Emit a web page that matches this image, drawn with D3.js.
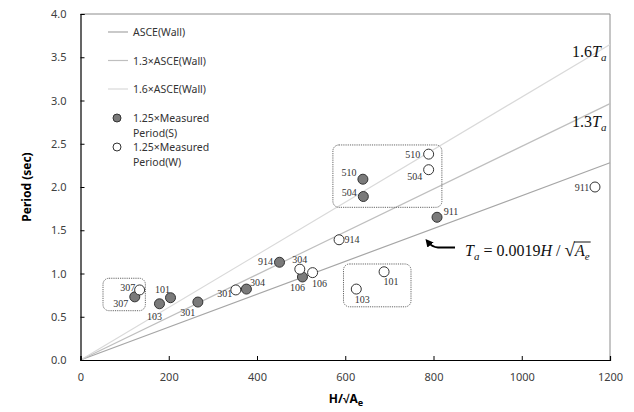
<!DOCTYPE html>
<html lang="en">
<head>
    <meta charset="UTF-8">
    <title>period vs H/sqrt(Ae)</title>
    <script src="https://d3js.org/d3.v7.min.js"></script>
    <style>
        body {
            margin: 0;
            background: white;
        }
        .tick-label {
            font-family: "Noto Sans", sans-serif;
            font-size: 11px;
            fill: #404040;
        }
        .axis-title {
            font-family: "Noto Sans", sans-serif;
            font-size: 12px;
            font-weight: bold;
        }
        .legend text {
            font-family: "Noto Sans", sans-serif;
            font-size: 10.5px;
            fill: #333;
        }
        .pt-label {
            font-family: "Liberation Serif", serif;
            font-size: 10px;
            fill: #333;
        }
        .math {
            font-family: "Liberation Serif", serif;
            font-size: 16px;
            fill: #111;
        }
    </style>
</head>
<body>
    <div id="chart"></div>
    <script>
        const WIDTH = 634
        const HEIGHT = 412

        // data
        const xTicks = [0, 200, 400, 600, 800, 1000, 1200]
        const yTicks = [0, 0.5, 1, 1.5, 2, 2.5, 3, 3.5, 4]

        const codeCoef = 0.0019
        const lineFactors = [1, 1.3, 1.6]
        const lineNames = ['ASCE(Wall)', '1.3\u00d7ASCE(Wall)', '1.6\u00d7ASCE(Wall)']

        const sIds = ['307', '103', '101', '301', '304', '914', '106', '510', '504', '911']
        const sX = [123, 179, 204, 266, 376, 451, 503, 640, 641, 808]
        const sY = [0.73, 0.65, 0.72, 0.67, 0.82, 1.13, 0.96, 2.09, 1.89, 1.65]

        const wIds = ['307', '301', '304', '106', '914', '103', '101', '504', '510', '911']
        const wX = [134, 352, 497, 526, 586, 625, 688, 789, 789, 1166]
        const wY = [0.81, 0.81, 1.05, 1.01, 1.39, 0.82, 1.02, 2.20, 2.38, 2.00]

        // dotted groupings, in data units [x0, x1, y0, y1]
        const boxes = [
            [51, 147, 0.57, 0.945],
            [596, 749, 0.615, 1.11],
            [572, 819, 1.765, 2.486]
        ]

        // layout stuff
        const lineColors = ['#a6a6a6', '#bfbfbf', '#d9d9d9']
        const sOffsets = {
            '307': [-14, 7], '103': [-5, 13], '101': [-8, -8], '301': [-10, 10], '304': [11, -7],
            '914': [-14, -1], '106': [-5, 11], '510': [-14, -7], '504': [-14, -4], '911': [14, -6]
        }
        const wOffsets = {
            '307': [-12, -2], '301': [-11, 4], '304': [0, -10], '106': [7, 11], '914': [13, 0],
            '103': [6, 10], '101': [7, 10], '504': [-14, 7], '510': [-16, 0], '911': [-13, 0]
        }

        const x = d3.scaleLinear().domain([0, 1200]).range([80.5, 610])
        const y = d3.scaleLinear().domain([0, 4]).range([360, 14])

        const svg = d3.select('#chart')
            .append('svg')
            .attr('width', WIDTH)
            .attr('height', HEIGHT)
            .attr('viewBox', [0, 0, WIDTH, HEIGHT])

        // frame
        svg.append('path')
            .attr('d', `M${x(0)},${y(4)}H${x(1200)}V${y(0)}`)
            .attr('fill', 'none')
            .attr('stroke', '#8c8c8c')

        // code lines
        svg.append('g').selectAll('line')
            .data(lineFactors).enter()
            .append('line')
            .attr('x1', x(0)).attr('y1', y(0))
            .attr('x2', x(1200)).attr('y2', f => y(f * codeCoef * 1200))
            .attr('stroke', (f, i) => lineColors[i])
            .attr('stroke-width', 1.2)

        // axes
        const xAxis = svg.append('g')
            .attr('transform', `translate(0,${y(0)})`)
            .call(d3.axisBottom(x).tickValues(xTicks).tickSize(-4).tickPadding(13).tickFormat(d3.format('d')))
        const yAxis = svg.append('g')
            .attr('transform', `translate(${x(0)},0)`)
            .call(d3.axisLeft(y).tickValues(yTicks).tickSize(-4).tickPadding(14).tickFormat(d3.format('.1f')))
        ;[xAxis, yAxis].forEach(g => {
            g.select('.domain').attr('stroke', '#000').attr('stroke-width', 1.2)
            g.selectAll('.tick line').attr('stroke', '#000')
            g.selectAll('.tick text').attr('class', 'tick-label').attr('font-size', null).attr('font-family', null)
        })
        xAxis.attr('font-size', null).attr('font-family', null)
        yAxis.attr('font-size', null).attr('font-family', null)

        // axis titles
        const xt = svg.append('text')
            .attr('class', 'axis-title')
            .attr('x', 346).attr('y', 403)
            .attr('text-anchor', 'middle')
        xt.append('tspan').text('H/\u221aA')
        xt.append('tspan').text('e').attr('font-size', 9).attr('dy', 3)

        svg.append('text')
            .attr('class', 'axis-title')
            .attr('transform', `translate(31,${(y(0) + y(4)) / 2}) rotate(-90)`)
            .attr('text-anchor', 'middle')
            .text('Period (sec)')

        // boxes
        svg.append('g').selectAll('rect')
            .data(boxes).enter()
            .append('rect')
            .attr('x', b => x(b[0]))
            .attr('y', b => y(b[3]))
            .attr('width', b => x(b[1]) - x(b[0]))
            .attr('height', b => y(b[2]) - y(b[3]))
            .attr('rx', 6)
            .attr('fill', 'none')
            .attr('stroke', '#666')
            .attr('stroke-width', 1)
            .attr('stroke-dasharray', '1.2,1')

        // points
        const sData = sIds.map((id, i) => ({ id, x: sX[i], y: sY[i], off: sOffsets[id] }))
        const wData = wIds.map((id, i) => ({ id, x: wX[i], y: wY[i], off: wOffsets[id] }))

        const drawPoints = (data, fill) => {
            const g = svg.append('g')
            g.selectAll('circle')
                .data(data).enter()
                .append('circle')
                .attr('cx', d => x(d.x))
                .attr('cy', d => y(d.y))
                .attr('r', 5)
                .attr('fill', fill)
                .attr('stroke', '#333')
                .attr('stroke-width', 1)
            g.selectAll('text')
                .data(data).enter()
                .append('text')
                .attr('class', 'pt-label')
                .attr('x', d => x(d.x) + d.off[0])
                .attr('y', d => y(d.y) + d.off[1])
                .attr('text-anchor', 'middle')
                .attr('dominant-baseline', 'central')
                .text(d => d.id)
        }
        drawPoints(sData, '#7a7a7a')
        drawPoints(wData, '#fff')

        // legend
        const legend = svg.append('g').attr('class', 'legend')
        lineNames.forEach((name, i) => {
            const ly = 32 + i * 28.5
            legend.append('line')
                .attr('x1', 108).attr('x2', 128)
                .attr('y1', ly).attr('y2', ly)
                .attr('stroke', lineColors[i]).attr('stroke-width', 1.2)
            legend.append('text')
                .attr('x', 133).attr('y', ly)
                .attr('dominant-baseline', 'central')
                .text(name)
        })
        ;[['#7a7a7a', 'S', 118], ['#fff', 'W', 147]].forEach(([fill, k, ly]) => {
            legend.append('circle')
                .attr('cx', 117).attr('cy', ly).attr('r', 4)
                .attr('fill', fill).attr('stroke', '#333')
            legend.append('text')
                .attr('x', 133).attr('y', ly)
                .attr('dominant-baseline', 'central')
                .text('1.25\u00d7Measured')
            legend.append('text')
                .attr('x', 133).attr('y', ly + 15)
                .attr('dominant-baseline', 'central')
                .text(`Period(${k})`)
        })

        // line annotations
        const taLabel = (tx, ty, factor) => {
            const t = svg.append('text').attr('class', 'math').attr('x', tx).attr('y', ty)
            t.append('tspan').text(factor)
            t.append('tspan').text('T').attr('font-style', 'italic')
            t.append('tspan').text('a').attr('font-style', 'italic').attr('font-size', 11).attr('dy', 4)
        }
        taLabel(572, 57, '1.6')
        taLabel(572, 127, '1.3')

        // formula
        const fx = 465, fy = 256
        const f = svg.append('text').attr('class', 'math').attr('x', fx).attr('y', fy)
        f.append('tspan').text('T').attr('font-style', 'italic')
        f.append('tspan').text('a').attr('font-style', 'italic').attr('font-size', 11).attr('dy', 4)
        f.append('tspan').text(' = 0.0019').attr('dy', -4)
        f.append('tspan').text('H').attr('font-style', 'italic')
        f.append('tspan').text(' / ')
        f.append('tspan').text('\u221a').attr('font-size', 19)
        const rad = f.append('tspan').text('A').attr('font-style', 'italic')
        f.append('tspan').text('e').attr('font-style', 'italic').attr('font-size', 11).attr('dy', 4)

        const bb = f.node().getBBox()
        const nChars = f.text().length
        const aStart = f.node().getStartPositionOfChar(nChars - 2).x
        svg.append('line')
            .attr('x1', aStart - 1).attr('x2', bb.x + bb.width + 1)
            .attr('y1', fy - 14).attr('y2', fy - 14)
            .attr('stroke', '#111').attr('stroke-width', 1)

        // arrow
        svg.append('defs').append('marker')
            .attr('id', 'head')
            .attr('viewBox', '0 0 10 10')
            .attr('refX', 5).attr('refY', 5)
            .attr('markerWidth', 4).attr('markerHeight', 4)
            .attr('orient', 'auto-start-reverse')
            .append('path').attr('d', 'M0,0L10,5L0,10z').attr('fill', '#000')
        svg.append('path')
            .attr('d', 'M455,247.5 L438,247.5 Q432,247 428,242')
            .attr('fill', 'none')
            .attr('stroke', '#000')
            .attr('stroke-width', 2)
            .attr('marker-end', 'url(#head)')
    </script>
</body>
</html>
